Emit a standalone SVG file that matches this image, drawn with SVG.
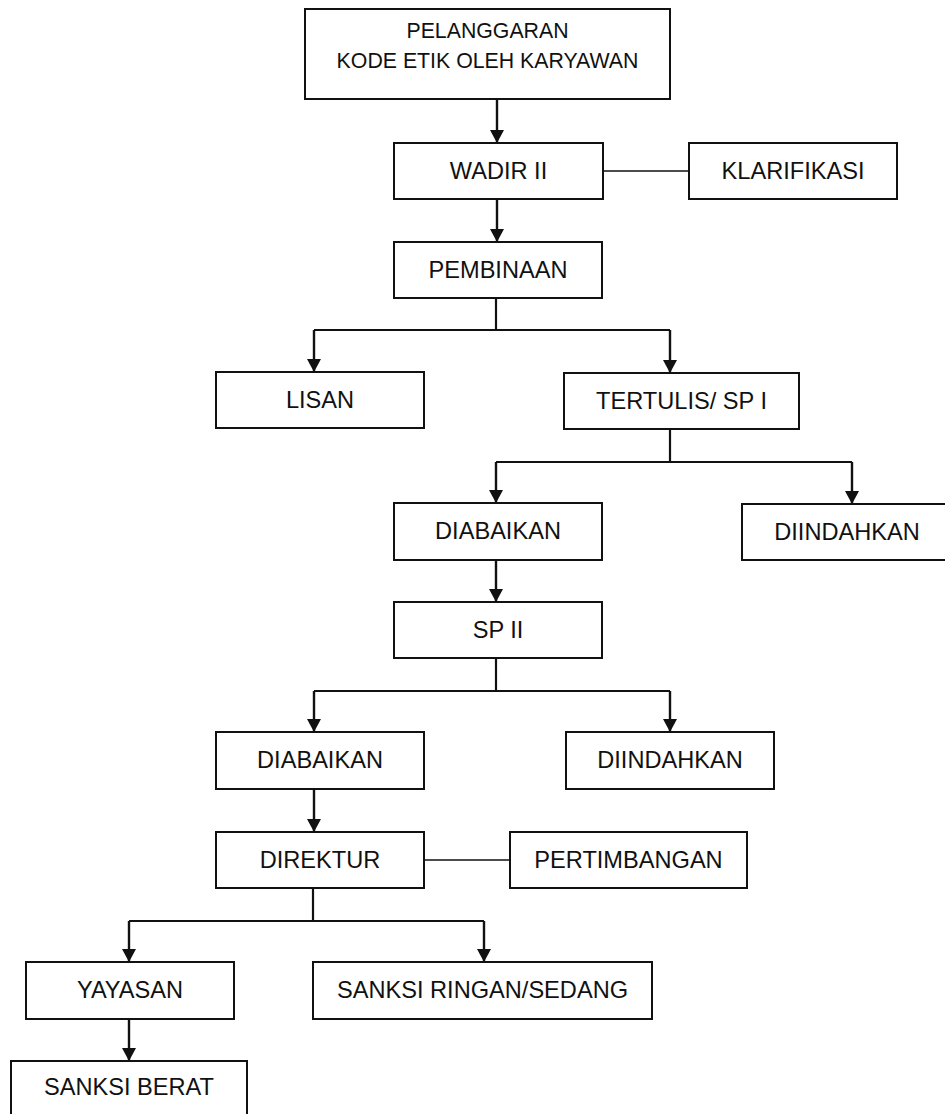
<svg xmlns="http://www.w3.org/2000/svg" width="945" height="1114" viewBox="0 0 945 1114">
<defs>
<style>
.box{fill:#fff;stroke:#111;stroke-width:2}
.t{font-family:"Liberation Sans",Arial,sans-serif;font-size:23.6px;fill:#111;text-anchor:middle}
.t2{font-family:"Liberation Sans",Arial,sans-serif;font-size:21.3px;fill:#111;text-anchor:middle}
.ln{fill:none;stroke:#111;stroke-width:2.2}
.thin{fill:none;stroke:#111;stroke-width:1.6}
.ar{fill:none;stroke:#111;stroke-width:2.4;marker-end:url(#ah)}
</style>
<marker id="ah" markerUnits="userSpaceOnUse" markerWidth="14" markerHeight="14" refX="13" refY="7" orient="auto">
<path d="M0,0 L13,7 L0,14 z" fill="#111"/>
</marker>
</defs>
<rect width="945" height="1114" fill="#fff"/>
<g id="connectors">
<line class="ar" x1="497" y1="99" x2="497" y2="143"/>
<line class="ar" x1="497" y1="199" x2="497" y2="242"/>
<line class="thin" x1="603" y1="171" x2="689" y2="171"/>
<polyline class="ln" points="496,298 496,330"/>
<line class="ln" x1="314" y1="330" x2="670" y2="330"/>
<line class="ar" x1="314" y1="330" x2="314" y2="372"/>
<line class="ar" x1="670" y1="330" x2="670" y2="373"/>
<polyline class="ln" points="670,429 670,462"/>
<line class="ln" x1="496" y1="462" x2="852" y2="462"/>
<line class="ar" x1="496" y1="462" x2="496" y2="503"/>
<line class="ar" x1="852" y1="462" x2="852" y2="504"/>
<line class="ar" x1="496" y1="560" x2="496" y2="602"/>
<polyline class="ln" points="496,658 496,691"/>
<line class="ln" x1="314" y1="691" x2="670" y2="691"/>
<line class="ar" x1="314" y1="691" x2="314" y2="732"/>
<line class="ar" x1="670" y1="691" x2="670" y2="732"/>
<line class="ar" x1="314" y1="789" x2="314" y2="832"/>
<line class="thin" x1="424" y1="860" x2="510" y2="860"/>
<polyline class="ln" points="313,888 313,921"/>
<line class="ln" x1="129" y1="921" x2="484" y2="921"/>
<line class="ar" x1="129" y1="921" x2="129" y2="962"/>
<line class="ar" x1="484" y1="921" x2="484" y2="962"/>
<line class="ar" x1="129" y1="1019" x2="129" y2="1061"/>
</g>
<g id="n-pelanggaran"><rect class="box" x="305" y="9" width="365" height="90"/><text class="t2" x="487.5" y="38">PELANGGARAN</text><text class="t2" x="487.5" y="68">KODE ETIK OLEH KARYAWAN</text></g>
<g id="n-wadir"><rect class="box" x="394" y="143" width="209" height="56"/><text class="t" x="498.5" y="178.5">WADIR II</text></g>
<g id="n-klarifikasi"><rect class="box" x="689" y="143" width="208" height="56"/><text class="t" x="793" y="178.5">KLARIFIKASI</text></g>
<g id="n-pembinaan"><rect class="box" x="394" y="242" width="208" height="56"/><text class="t" x="498" y="277.5">PEMBINAAN</text></g>
<g id="n-lisan"><rect class="box" x="216" y="372" width="208" height="56"/><text class="t" x="320" y="407.5">LISAN</text></g>
<g id="n-tertulis"><rect class="box" x="564" y="373" width="235" height="56"/><text class="t" x="681.5" y="408.5">TERTULIS/ SP I</text></g>
<g id="n-diabaikan1"><rect class="box" x="394" y="503" width="208" height="57"/><text class="t" x="498" y="539">DIABAIKAN</text></g>
<g id="n-diindahkan1"><rect class="box" x="742" y="504" width="210" height="56"/><text class="t" x="847" y="539.5">DIINDAHKAN</text></g>
<g id="n-sp2"><rect class="box" x="394" y="602" width="208" height="56"/><text class="t" x="498" y="637.5">SP II</text></g>
<g id="n-diabaikan2"><rect class="box" x="216" y="732" width="208" height="57"/><text class="t" x="320" y="768">DIABAIKAN</text></g>
<g id="n-diindahkan2"><rect class="box" x="566" y="732" width="208" height="57"/><text class="t" x="670" y="768">DIINDAHKAN</text></g>
<g id="n-direktur"><rect class="box" x="216" y="832" width="208" height="56"/><text class="t" x="320" y="867.5">DIREKTUR</text></g>
<g id="n-pertimbangan"><rect class="box" x="510" y="832" width="237" height="56"/><text class="t" x="628.5" y="867.5">PERTIMBANGAN</text></g>
<g id="n-yayasan"><rect class="box" x="26" y="962" width="208" height="57"/><text class="t" x="130" y="998">YAYASAN</text></g>
<g id="n-sanksi-ringan"><rect class="box" x="313" y="962" width="339" height="57"/><text class="t" x="482.5" y="998">SANKSI RINGAN/SEDANG</text></g>
<g id="n-sanksi-berat"><rect class="box" x="11" y="1061" width="236" height="57"/><text class="t" x="129" y="1095">SANKSI BERAT</text></g>
</svg>
